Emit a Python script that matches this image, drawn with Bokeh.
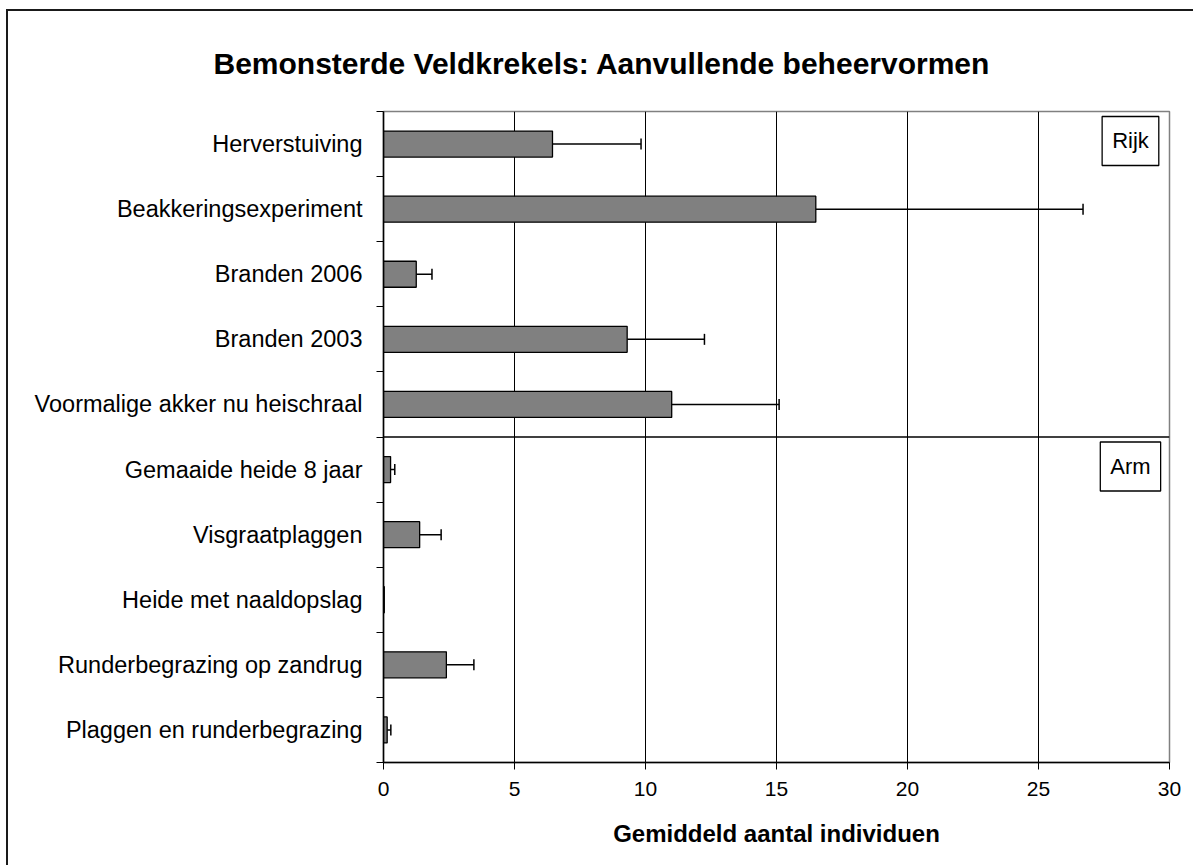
from bokeh.plotting import figure
from bokeh.models import ColumnDataSource, FixedTicker, Whisker, TeeHead, Span, Label, Title
from bokeh.embed import file_html
from bokeh.resources import INLINE

# ---- data ----
categories = ["Herverstuiving", "Beakkeringsexperiment", "Branden 2006", "Branden 2003",
              "Voormalige akker nu heischraal", "Gemaaide heide 8 jaar", "Visgraatplaggen",
              "Heide met naaldopslag", "Runderbegrazing op zandrug", "Plaggen en runderbegrazing"]
means = [6.45, 16.5, 1.25, 9.3, 11.0, 0.27, 1.38, 0.03, 2.4, 0.14]
errors = [3.38, 10.2, 0.6, 2.95, 4.1, 0.16, 0.82, 0.0, 1.05, 0.14]
x_ticks = [0, 5, 10, 15, 20, 25, 30]
group_labels = ["Rijk", "Arm"]
group_sizes = [5, 5]
title_text = "Bemonsterde Veldkrekels: Aanvullende beheervormen"

FONT = "Liberation Sans"
n = len(categories)
ypos = [n - i - 0.5 for i in range(n)]
upper = [m + e for m, e in zip(means, errors)]

src = ColumnDataSource(dict(cat=categories, y=ypos, mean=means))
wsrc = ColumnDataSource(dict(
    y=[y for y, e in zip(ypos, errors) if e > 0],
    lo=[m for m, e in zip(means, errors) if e > 0],
    hi=[u for u, e in zip(upper, errors) if e > 0],
))

p = figure(width=1192, height=856, x_range=(x_ticks[0], x_ticks[-1]), y_range=(0, n),
           output_backend="svg", toolbar_location=None, title=None,
           min_border_left=375, min_border_right=31, min_border_top=100, min_border_bottom=105,
           styles={"margin-left": "6px", "margin-top": "9px",
                   "border-left": "2px solid #1a1a1a", "border-top": "2px solid #1a1a1a"})
p.background_fill_color = "white"
p.border_fill_color = "white"
p.outline_line_color = "#808080"
p.outline_line_width = 1.5

# title
p.add_layout(Title(text=title_text, align="left", offset=-170, vertical_align="bottom",
                   standoff=64, text_font=FONT, text_font_size="30px",
                   text_font_style="bold", text_color="black"), "above")

# bars
p.hbar(y="y", left=0, right="mean", height=0.4, source=src,
       fill_color="#808080", line_color="black", line_width=1.3)

# error bars
p.add_layout(Whisker(source=wsrc, base="y", lower="lo", upper="hi", dimension="width",
                     line_color="black", line_width=1.5,
                     upper_head=TeeHead(size=11, line_color="black", line_width=1.5),
                     lower_head=None))

# group separator
p.add_layout(Span(location=n - group_sizes[0], dimension="width",
                  line_color="black", line_width=1.5))

# group labels
tops = [n, n - group_sizes[0]]
for lab, top in zip(group_labels, tops):
    p.add_layout(Label(x=x_ticks[-1] - 1.49, y=top - 0.453, text=lab,
                       text_align="center", text_baseline="middle",
                       text_font=FONT, text_font_size="22px", text_color="black",
                       border_line_color="black", border_line_width=1.3,
                       background_fill_color="white", padding=(10, 12)))

# x axis
p.xaxis.ticker = FixedTicker(ticks=x_ticks, minor_ticks=[])
p.xaxis.major_tick_in = 0
p.xaxis.major_tick_out = 7
p.xaxis.minor_tick_line_color = None
p.xaxis.axis_line_color = "black"
p.xaxis.axis_line_width = 1.5
p.xaxis.major_tick_line_color = "black"
p.xaxis.major_label_text_font = FONT
p.xaxis.major_label_text_font_size = "21px"
p.xaxis.major_label_text_color = "black"
p.xaxis.major_label_standoff = 12
p.xaxis.axis_label = "Gemiddeld aantal individuen"
p.xaxis.axis_label_text_font = FONT
p.xaxis.axis_label_text_font_size = "24px"
p.xaxis.axis_label_text_font_style = "bold"
p.xaxis.axis_label_text_color = "black"
p.xaxis.axis_label_standoff = 21

# y axis
p.yaxis.ticker = FixedTicker(ticks=ypos, minor_ticks=list(range(n + 1)))
p.yaxis.major_label_overrides = {y: c for y, c in zip(ypos, categories)}
p.yaxis.major_tick_in = 0
p.yaxis.major_tick_out = 0
p.yaxis.minor_tick_in = 0
p.yaxis.minor_tick_out = 7
p.yaxis.minor_tick_line_color = "black"
p.yaxis.axis_line_color = "black"
p.yaxis.axis_line_width = 1.5
p.yaxis.major_label_text_font = FONT
p.yaxis.major_label_text_font_size = "23.5px"
p.yaxis.major_label_text_color = "black"
p.yaxis.major_label_standoff = 14

# grid
p.xgrid.ticker = FixedTicker(ticks=x_ticks[1:-1])
p.xgrid.grid_line_color = "black"
p.xgrid.grid_line_width = 1
p.ygrid.grid_line_color = None

open("out.html", "w").write(file_html(p, INLINE))
